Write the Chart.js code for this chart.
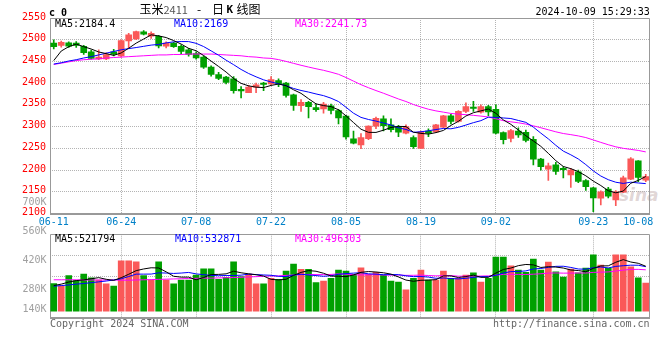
<!DOCTYPE html>
<html>
<head>
<meta charset="utf-8">
<script src="https://cdn.jsdelivr.net/npm/chart.js@4.4.1/dist/chart.umd.min.js"></script>
<style>
  body { margin: 0; background: #fff; }
  #wrap { position: relative; width: 660px; height: 360px; overflow: hidden; }
  canvas { position: absolute; left: 0; }
  .t { position: absolute; font: 10px/10px "DejaVu Sans Mono", monospace; white-space: pre; color: #000; }
  .cjk { position: absolute; font: 12px/12px "Noto Sans CJK SC", sans-serif; white-space: pre; color: #000; }
  .wm { position: absolute; left: 619px; top: 185px; font: italic bold 17px/20px "DejaVu Sans", sans-serif; color: rgba(175, 150, 150, 0.4); }
</style>
</head>
<body>
<div id="wrap">
  <div class="wm">sina</div>
  <canvas id="klineChart" width="660" height="232" style="top:0"></canvas>
  <canvas id="volumeChart" width="660" height="170" style="top:190px"></canvas>

  <div class="t" style="left:49px;top:7.7px;font-weight:bold">c 0</div>
  <div class="cjk" style="left:139.5px;top:3px">玉米<span style="font-size:11px;color:#555">2411</span></div>
  <div class="cjk" style="left:197px;top:3px">-</div>
  <div class="cjk" style="left:212px;top:3px">日</div>
  <div class="t" style="left:226.5px;top:5px;font-weight:bold;font-size:11px">K</div>
  <div class="cjk" style="left:236.5px;top:3px">线图</div>
  <div class="t" style="left:535.5px;top:6.9px">2024-10-09 15:29:33</div>

  <div class="t" style="left:55px;top:18.6px;color:#000">MA5:2184.4</div>
  <div class="t" style="left:174px;top:18.6px;color:#0000ff">MA10:2169</div>
  <div class="t" style="left:295px;top:18.6px;color:#ff00ff">MA30:2241.73</div>

  <div class="t" style="left:55px;top:233.8px;color:#000">MA5:521794</div>
  <div class="t" style="left:175px;top:233.8px;color:#0000ff">MA10:532871</div>
  <div class="t" style="left:295px;top:233.8px;color:#ff00ff">MA30:496303</div>

  <div class="t" style="left:50px;top:318.8px;color:#666">Copyright 2024 SINA.COM</div>
  <div class="t" style="left:493px;top:318.8px;color:#666">http://finance.sina.com.cn</div>
</div>

<script>
// 玉米2411 daily K line, 06-11 .. 10-09

const dates = [
    '06-11', '06-12', '06-13', '06-14', '06-17', '06-18', '06-19', '06-20', '06-21',
    '06-24', '06-25', '06-26', '06-27', '06-28',
    '07-01', '07-02', '07-03', '07-04', '07-05',
    '07-08', '07-09', '07-10', '07-11', '07-12',
    '07-15', '07-16', '07-17', '07-18', '07-19',
    '07-22', '07-23', '07-24', '07-25', '07-26',
    '07-29', '07-30', '07-31', '08-01', '08-02',
    '08-05', '08-06', '08-07', '08-08', '08-09',
    '08-12', '08-13', '08-14', '08-15', '08-16',
    '08-19', '08-20', '08-21', '08-22', '08-23',
    '08-26', '08-27', '08-28', '08-29', '08-30',
    '09-02', '09-03', '09-04', '09-05', '09-06',
    '09-09', '09-10', '09-11', '09-12', '09-13',
    '09-18', '09-19', '09-20',
    '09-23', '09-24', '09-25', '09-26', '09-27',
    '09-30', '10-08', '10-09'
];

const dateTicks = ['06-11', '06-24', '07-08', '07-22', '08-05', '08-19', '09-02', '09-23', '10-08'];
const edgeDates = ['06-11', '10-08'];

const opens = [
    2492, 2487, 2493, 2492, 2485, 2472, 2456, 2456, 2472, 2463,
    2497, 2502, 2518, 2508, 2508, 2485, 2492, 2485, 2477, 2468,
    2460, 2437, 2420, 2414, 2410, 2386, 2378, 2391, 2400, 2398,
    2406, 2400, 2373, 2348, 2356, 2344, 2341, 2348, 2337, 2324,
    2272, 2258, 2272, 2301, 2318, 2304, 2299, 2285, 2275, 2250,
    2290, 2288, 2299, 2325, 2312, 2335, 2345, 2333, 2346, 2340,
    2286, 2273, 2290, 2287, 2271, 2225, 2202, 2212, 2204, 2189,
    2196, 2176, 2159, 2135, 2156, 2131, 2149, 2179, 2221, 2177
];
const highs = [
    2500, 2497, 2495, 2496, 2487, 2476, 2477, 2470, 2478, 2500,
    2515, 2520, 2521, 2518, 2510, 2495, 2494, 2488, 2480, 2472,
    2463, 2440, 2425, 2416, 2415, 2392, 2395, 2400, 2402, 2415,
    2410, 2402, 2375, 2362, 2358, 2352, 2356, 2352, 2340, 2326,
    2290, 2284, 2302, 2322, 2325, 2318, 2303, 2304, 2279, 2290,
    2295, 2305, 2326, 2328, 2337, 2355, 2358, 2350, 2349, 2350,
    2288, 2294, 2297, 2292, 2277, 2227, 2216, 2218, 2208, 2204,
    2200, 2178, 2160, 2152, 2160, 2153, 2186, 2229, 2222, 2190
];
const lows = [
    2479, 2483, 2482, 2482, 2466, 2455, 2454, 2454, 2463, 2460,
    2481, 2500, 2511, 2503, 2481, 2481, 2482, 2468, 2462, 2455,
    2434, 2416, 2408, 2398, 2377, 2366, 2378, 2378, 2383, 2396,
    2392, 2368, 2337, 2335, 2320, 2335, 2331, 2329, 2306, 2271,
    2260, 2249, 2270, 2295, 2290, 2288, 2277, 2283, 2250, 2250,
    2277, 2286, 2297, 2306, 2310, 2332, 2335, 2331, 2325, 2283,
    2260, 2265, 2275, 2265, 2212, 2200, 2176, 2190, 2182, 2160,
    2171, 2153, 2104, 2120, 2136, 2118, 2148, 2178, 2173, 2173
];
const closes = [
    2484, 2494, 2485, 2487, 2470, 2457, 2460, 2466, 2467, 2498,
    2511, 2519, 2513, 2515, 2486, 2492, 2484, 2473, 2466, 2458,
    2437, 2420, 2411, 2402, 2383, 2382, 2391, 2396, 2397, 2408,
    2398, 2372, 2349, 2356, 2346, 2339, 2352, 2337, 2320, 2276,
    2262, 2275, 2301, 2319, 2302, 2293, 2287, 2300, 2254, 2288,
    2285, 2304, 2325, 2312, 2335, 2346, 2342, 2346, 2334, 2285,
    2270, 2291, 2281, 2268, 2225, 2208, 2210, 2197, 2201, 2200,
    2174, 2162, 2136, 2150, 2140, 2150, 2182, 2226, 2183, 2185
];

const ma5 = [
    2452, 2474, 2484, 2490, 2484.0, 2478.6, 2471.8, 2468.0, 2464.0, 2469.6,
    2480.4, 2492.2, 2501.6, 2511.2, 2508.8, 2505.0, 2498.0, 2490.0, 2480.2, 2474.6,
    2463.6, 2450.8, 2438.4, 2425.6, 2410.6, 2399.6, 2393.8, 2390.8, 2389.8, 2394.8,
    2398.0, 2394.2, 2384.8, 2376.6, 2364.2, 2352.4, 2348.4, 2346.0, 2338.8, 2324.8,
    2309.4, 2294.0, 2286.8, 2286.6, 2291.8, 2298.0, 2300.4, 2300.2, 2287.2, 2284.4,
    2282.8, 2286.2, 2291.2, 2302.8, 2312.2, 2324.4, 2332.0, 2336.2, 2340.6, 2330.6,
    2315.4, 2305.2, 2292.2, 2279.0, 2267.0, 2254.6, 2238.4, 2221.6, 2208.2, 2203.2,
    2196.4, 2186.8, 2174.6, 2164.4, 2152.4, 2147.6, 2151.6, 2169.6, 2176.2, 2185.2
];
const ma10 = [
    2444, 2447, 2451, 2454, 2458, 2461, 2465, 2469, 2473, 2476.8,
    2479.5, 2482.0, 2484.8, 2487.6, 2489.2, 2492.7, 2495.1, 2495.8, 2495.7, 2491.7,
    2484.3, 2474.4, 2464.2, 2452.9, 2442.6, 2431.6, 2422.3, 2414.6, 2407.7, 2402.7,
    2398.8, 2394.0, 2387.8, 2383.2, 2379.5, 2375.2, 2371.3, 2365.4, 2357.7, 2344.5,
    2330.9, 2321.2, 2316.4, 2312.7, 2308.3, 2303.7, 2297.2, 2293.5, 2286.9, 2288.1,
    2290.4, 2293.3, 2295.7, 2295.0, 2298.3, 2303.6, 2309.1, 2313.7, 2321.7, 2321.4,
    2319.9, 2318.6, 2314.2, 2309.8, 2298.8, 2285.0, 2271.8, 2256.9, 2243.6, 2235.1,
    2225.5, 2212.6, 2198.1, 2186.3, 2177.8, 2172.0, 2169.2, 2172.1, 2170.3, 2168.8
];
const ma30 = [
    2443, 2446, 2449, 2452, 2454, 2455, 2456, 2458, 2459, 2460,
    2461, 2462, 2463, 2464, 2465, 2465, 2466, 2466, 2467, 2467,
    2467, 2467, 2466, 2465, 2464, 2463, 2461, 2460, 2458, 2457.1,
    2454.2, 2450.1, 2445.6, 2441.2, 2437.1, 2433.2, 2429.6, 2425.3, 2420.4, 2413.0,
    2404.7, 2396.5, 2389.5, 2383.0, 2376.8, 2370.2, 2363.6, 2357.8, 2350.8, 2345.1,
    2340.0, 2336.2, 2333.3, 2330.3, 2328.7, 2327.5, 2325.9, 2324.2, 2322.1, 2318.0,
    2313.7, 2311.0, 2308.8, 2305.8, 2301.8, 2297.4, 2292.7, 2288.0, 2284.1, 2281.5,
    2278.6, 2274.8, 2269.3, 2263.7, 2258.3, 2253.5, 2250.0, 2247.6, 2245.2, 2241.8
];

// volume, in thousands
const volumes = [
    308, 297, 346, 322, 354, 335, 325, 306, 296, 418,
    418, 413, 346, 325, 413, 325, 306, 325, 325, 349,
    379, 379, 328, 338, 413, 341, 354, 306, 306, 333,
    328, 368, 402, 377, 377, 312, 320, 333, 373, 368,
    352, 384, 352, 362, 349, 320, 315, 277, 333, 373,
    325, 325, 368, 333, 333, 349, 359, 315, 333, 436,
    436, 393, 373, 362, 426, 373, 412, 364, 339, 378,
    360, 383, 446, 397, 381, 446, 446, 389, 336, 310
];
const volMa5 = [
    298, 305, 315, 322, 325.4, 330.8, 336.4, 328.4, 323.2, 336.0,
    352.6, 370.2, 378.2, 384.0, 383.0, 364.4, 343.0, 338.8, 338.8, 326.0,
    336.8, 351.4, 352.0, 354.6, 367.4, 359.8, 354.8, 350.4, 344.0, 328.0,
    325.4, 328.2, 347.4, 361.6, 370.4, 367.2, 357.6, 343.8, 343.0, 341.2,
    349.2, 362.0, 365.8, 363.6, 359.8, 353.4, 339.6, 324.6, 318.8, 323.6,
    324.6, 326.6, 344.8, 344.8, 336.8, 341.6, 348.4, 337.8, 337.8, 358.4,
    375.8, 382.6, 394.2, 400.0, 398.0, 385.4, 389.2, 387.4, 382.8, 373.2,
    370.6, 364.8, 381.2, 392.8, 393.4, 410.6, 423.2, 411.8, 405.6, 391.4
];
const volMa10 = [
    295, 298, 301, 305, 308, 312, 316, 320, 325, 330.7,
    341.7, 353.3, 353.3, 353.6, 359.5, 358.5, 356.6, 358.5, 361.4, 354.5,
    350.6, 347.2, 345.4, 346.7, 346.7, 348.3, 353.1, 351.2, 349.3, 347.7,
    342.6, 341.5, 348.9, 352.8, 349.2, 346.3, 342.9, 345.6, 352.3, 355.8,
    358.2, 359.8, 354.8, 353.3, 350.5, 351.3, 350.8, 345.2, 341.2, 341.7,
    339.0, 333.1, 334.7, 331.8, 330.2, 333.1, 337.5, 341.3, 341.3, 347.6,
    358.7, 365.5, 366.0, 368.9, 378.2, 380.6, 385.9, 390.8, 391.4, 385.6,
    378.0, 377.0, 384.3, 387.8, 383.3, 390.6, 394.0, 396.5, 396.2, 389.4
];
const volMa30 = [
    326, 326, 326, 326, 325, 325, 325, 325, 325, 324,
    324, 325, 326, 327, 328, 329, 330, 331, 332, 333,
    334, 334, 335, 336, 337, 338, 340, 341, 343, 344.3,
    345.0, 347.3, 349.2, 351.0, 351.8, 351.0, 350.9, 351.8, 354.3, 352.7,
    350.5, 349.5, 349.7, 350.9, 348.8, 348.6, 348.9, 347.3, 347.6, 348.4,
    346.6, 344.8, 346.1, 346.0, 343.3, 343.6, 343.7, 344.0, 344.9, 348.4,
    352.0, 352.8, 351.8, 351.3, 353.0, 355.0, 358.1, 359.1, 358.0, 358.3,
    358.6, 358.5, 361.7, 362.8, 363.9, 368.1, 372.5, 376.2, 376.3, 374.2
];
const volumeTicks = [140, 280, 420, 560, 700];
const volumeBase = 175;


const upColor = '#fa5858';
const downColor = '#00a000';
const gridColor = '#b4b4b4';

Chart.defaults.font.family = '"DejaVu Sans Mono", monospace';
Chart.defaults.font.size = 10;

const candleColors = closes.map((c, i) => c >= opens[i] ? upColor : downColor);

function keepDateTicks(scale) {
    scale.ticks = scale.ticks.filter(t => dateTicks.includes(dates[t.value]));
}

function dateGridColor(ctx) {
    return ctx.tick && edgeDates.includes(ctx.tick.label) ? 'rgba(0,0,0,0)' : gridColor;
}

function maLine(data, color) {
    return { type: 'line', data: data, borderColor: color, borderWidth: 1, pointRadius: 0, tension: 0 };
}

// grey frame round each panel
const panelBox = {
    id: 'panelBox',
    beforeDatasetsDraw(chart) {
        const { ctx, chartArea: a } = chart;
        const l = Math.round(a.left) + 0.5;
        const r = Math.round(a.right) - 0.5;
        const t = Math.round(a.top) + 0.5;
        const b = Math.round(a.bottom);
        ctx.save();
        ctx.strokeStyle = '#999';
        ctx.lineWidth = 1;
        ctx.beginPath();
        ctx.moveTo(l, b);
        ctx.lineTo(l, t);
        ctx.lineTo(r, t);
        ctx.lineTo(r, b);
        ctx.stroke();
        ctx.lineWidth = 2;
        ctx.beginPath();
        ctx.moveTo(l - 0.5, b);
        ctx.lineTo(r + 0.5, b);
        ctx.stroke();
        ctx.restore();
    }
};

const volumeAxisLabels = {
    id: 'volumeAxisLabels',
    afterDraw(chart) {
        const { ctx, chartArea, scales } = chart;
        ctx.save();
        ctx.font = '10px "DejaVu Sans Mono", monospace';
        ctx.fillStyle = '#a0a0a0';
        ctx.textAlign = 'right';
        ctx.textBaseline = 'middle';
        volumeTicks.forEach(v => {
            const y = Math.min(scales.y.getPixelForValue(v), chartArea.bottom - 9);
            ctx.fillText(v + 'K', 46.5, y);
        });
        ctx.restore();
    }
};

buildKlineChart();
buildVolumeChart();

function buildKlineChart() {
    const klineCtx = document.getElementById('klineChart');
    new Chart(klineCtx, {
        type: 'bar',
        data: {
            labels: dates,
            datasets: [
                maLine(ma5, '#000000'),
                maLine(ma10, '#0000ff'),
                maLine(ma30, '#ff00ff'),
                {
                    data: opens.map((o, i) => [o, closes[i]]),
                    backgroundColor: candleColors,
                    barThickness: 6,
                    grouped: false
                },
                {
                    data: lows.map((l, i) => [l, highs[i]]),
                    backgroundColor: candleColors,
                    barThickness: 1,
                    grouped: false
                }
            ]
        },
        options: {
            responsive: false,
            animation: false,
            events: [],
            layout: { padding: { top: 18, right: 10.5, left: 0, bottom: 0 } },
            plugins: {
                legend: { display: false },
                tooltip: { enabled: false }
            },
            scales: {
                x: {
                    offset: true,
                    grid: { offset: false, color: dateGridColor, drawTicks: false },
                    border: { display: false, dash: [1, 1] },
                    ticks: { color: '#0080c8', padding: 3, maxRotation: 0, autoSkip: false },
                    afterBuildTicks: keepDateTicks,
                    afterFit: s => { s.height = 18.5; }
                },
                y: {
                    min: 2100,
                    max: 2550,
                    ticks: {
                        stepSize: 50,
                        color: '#ff0000',
                        padding: 4,
                        labelOffset: -1,
                        callback: v => String(v)
                    },
                    grid: { color: gridColor, drawTicks: false },
                    border: { display: false, dash: [1, 1] },
                    afterFit: s => { s.width = 50; }
                }
            }
        },
        plugins: [panelBox]
    });
}

function buildVolumeChart() {
    const volumeCtx = document.getElementById('volumeChart');
    new Chart(volumeCtx, {
        type: 'bar',
        data: {
            labels: dates,
            datasets: [
                maLine(volMa5, '#000000'),
                maLine(volMa10, '#0000ff'),
                maLine(volMa30, '#ff00ff'),
                {
                    data: volumes,
                    base: volumeBase,
                    backgroundColor: candleColors,
                    barThickness: 6
                }
            ]
        },
        options: {
            responsive: false,
            animation: false,
            events: [],
            layout: { padding: { top: 44.3, right: 10.5, left: 0, bottom: 0 } },
            plugins: {
                legend: { display: false },
                tooltip: { enabled: false }
            },
            scales: {
                x: {
                    offset: true,
                    grid: { offset: false, color: dateGridColor, drawTicks: false },
                    border: { display: false, dash: [1, 1] },
                    ticks: { display: false, autoSkip: false },
                    afterBuildTicks: keepDateTicks,
                    afterFit: s => { s.height = 41.7; }
                },
                y: {
                    min: 140,
                    max: 545.6,
                    ticks: { display: false },
                    grid: { color: gridColor, drawTicks: false },
                    border: { display: false, dash: [1, 1] },
                    // three dotted rules splitting the panel in quarters
                    afterBuildTicks: s => {
                        s.ticks = [1, 2, 3].map(k => ({ value: s.min + (s.max - s.min) * k / 4 }));
                    },
                    afterFit: s => { s.width = 50; }
                }
            }
        },
        plugins: [panelBox, volumeAxisLabels]
    });
}
</script>
</body>
</html>
